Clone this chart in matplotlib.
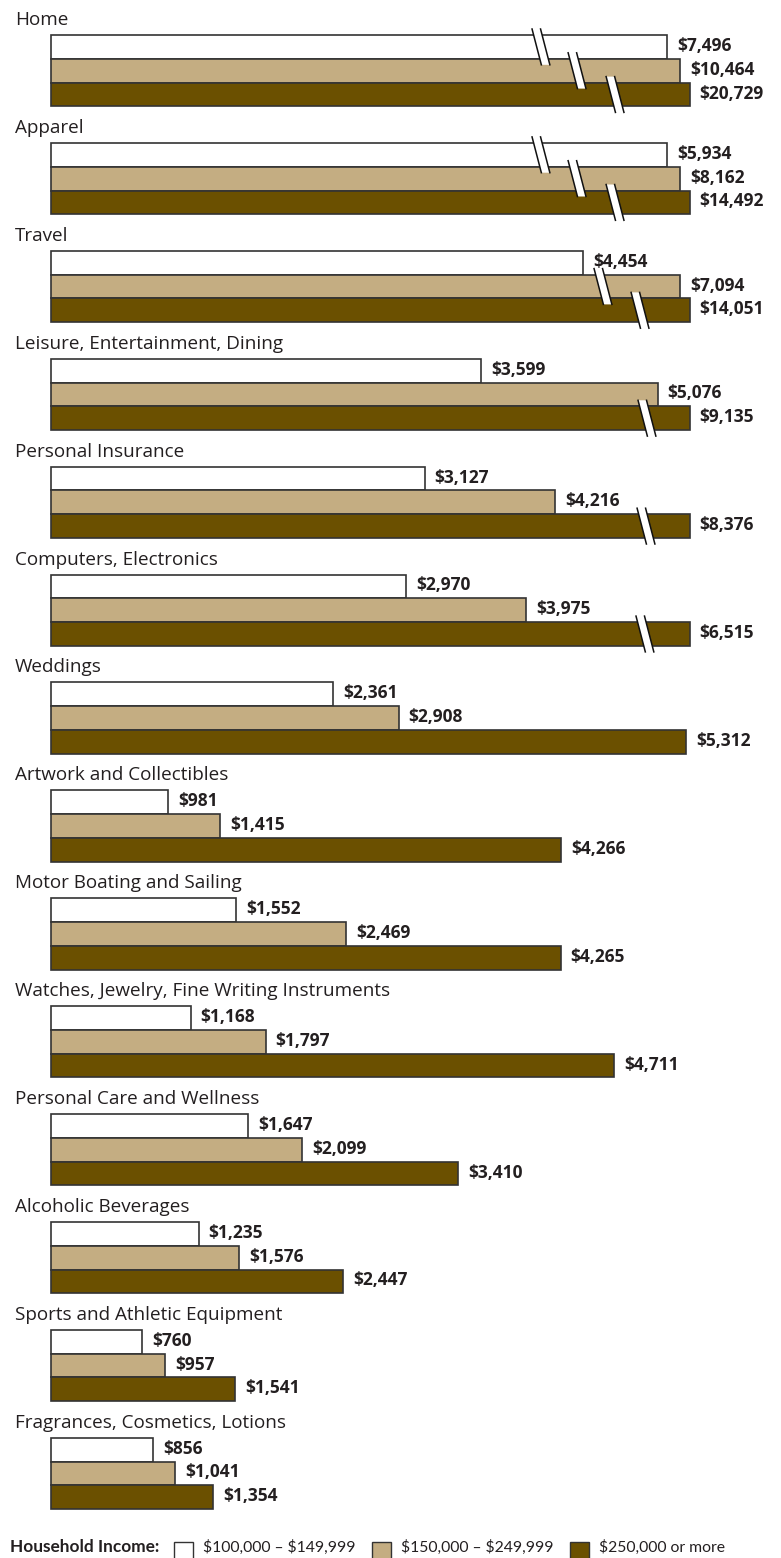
import matplotlib.pyplot as plt
from matplotlib.patches import Polygon

# Gasto medio anual por categoria y tramo de ingresos del hogar
categorias = [
    "Home", "Apparel", "Travel", "Leisure, Entertainment, Dining",
    "Personal Insurance", "Computers, Electronics", "Weddings",
    "Artwork and Collectibles", "Motor Boating and Sailing",
    "Watches, Jewelry, Fine Writing Instruments", "Personal Care and Wellness",
    "Alcoholic Beverages", "Sports and Athletic Equipment",
    "Fragrances, Cosmetics, Lotions",
]
ingreso_100k = [7496, 5934, 4454, 3599, 3127, 2970, 2361, 981, 1552, 1168, 1647, 1235, 760, 856]
ingreso_150k = [10464, 8162, 7094, 5076, 4216, 3975, 2908, 1415, 2469, 1797, 2099, 1576, 957, 1041]
ingreso_250k = [20729, 14492, 14051, 9135, 8376, 6515, 5312, 4266, 4265, 4711, 3410, 2447, 1541, 1354]
series = [ingreso_100k, ingreso_150k, ingreso_250k]
leyenda = ["$100,000 \u2013 $149,999", "$150,000 \u2013 $249,999", "$250,000 or more"]

# Largo maximo dibujado por serie (las barras mas largas se cortan)
tope = [5155, 5265, 5345]
# Donde va el corte de cada barra cortada: (categoria, serie) -> dolares
cortes = {
    (0, 0): 4100, (0, 1): 4402, (0, 2): 4720,
    (1, 0): 4100, (1, 1): 4402, (1, 2): 4720,
    (2, 1): 4619, (2, 2): 4929,
    (3, 2): 4987, (4, 2): 4979, (5, 2): 4970,
}

colores = ["#ffffff", "#c4ad82", "#6b5000"]
borde = "#333333"
texto = "#231f20"

W, H = 781, 1558
x0 = 51           # pixel donde arrancan las barras
k = 0.1195        # pixeles por dolar
paso = 107.9      # distancia entre grupos
arriba = 35       # borde superior del primer grupo
alto = 23.8       # alto de cada barra

fig = plt.figure(figsize=(W / 100, H / 100), dpi=100)
ax = fig.add_axes([0, 0, 1, 1])
ax.set_xlim(-x0 / k, (W - x0) / k)
ax.set_ylim(H, 0)
ax.axis("off")

def px(d):
    return d / k

for i, cat in enumerate(categorias):
    top = arriba + i * paso
    ax.text(px(15 - x0), top - 15, cat, fontsize=13.6, family="Open Sans",
            color=texto, va="center", ha="left")
    for j, vals in enumerate(series):
        v = vals[i]
        largo = min(v, tope[j])
        yc = top + alto * (j + 0.5)
        ax.barh(yc, largo, height=alto, left=0, color=colores[j],
                edgecolor=borde, linewidth=1.2, zorder=2)
        ax.text(largo + px(10), yc - 1, f"${v:,}", fontsize=12.5, family="Open Sans",
                fontweight="bold", color=texto, va="center", ha="left", zorder=5)

# Marcas de corte: banda blanca inclinada con dos filos negros
for (i, j), xc in cortes.items():
    yc = arriba + i * paso + alto * (j + 0.5)
    y0, y1 = yc - alto / 2 - 6, yc + alto / 2 + 6
    s, w = 0.26, 8.5
    xs = [xc + px(-w / 2 + (y0 - yc) * s), xc + px(w / 2 + (y0 - yc) * s),
          xc + px(w / 2 + (y1 - yc) * s), xc + px(-w / 2 + (y1 - yc) * s)]
    ys = [y0, y0, y1, y1]
    ax.add_patch(Polygon(list(zip(xs, ys)), closed=True, facecolor="white",
                         edgecolor="none", zorder=3))
    ax.plot([xs[0], xs[3]], [y0, y1], color="#111111", lw=1.1, zorder=4)
    ax.plot([xs[1], xs[2]], [y0, y1], color="#111111", lw=1.1, zorder=4)

# Leyenda inferior
ly = 1547
ax.text(px(10 - x0), ly, "Household Income:", fontsize=12.4, family="Lato",
        fontweight="bold", color=texto, va="center", ha="left")
cajas = [174, 372, 570]
for j, nombre in enumerate(leyenda):
    bx = cajas[j]
    ax.add_patch(plt.Rectangle((px(bx - x0), ly - 5), px(19), 18,
                               facecolor=colores[j], edgecolor=borde, lw=1))
    ax.text(px(bx + 29 - x0), ly, nombre, fontsize=11.3, family="Lato",
            color=texto, va="center", ha="left", parse_math=False)

fig.savefig("out.png", dpi=100)
